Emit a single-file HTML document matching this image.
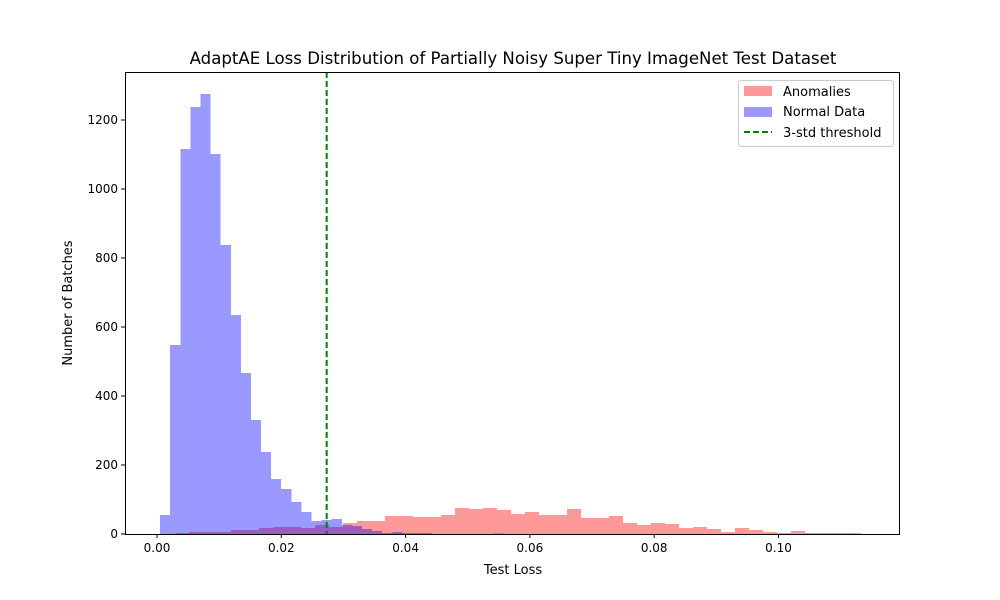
<!DOCTYPE html>
<html><head><meta charset="utf-8"><style>
body{margin:0;background:#fff}
svg{display:block;font-family:"DejaVu Sans","Liberation Sans",sans-serif}
</style></head><body>
<svg id="chart" width="1000" height="600">
<rect width="1000" height="600" fill="#fff"/>
<text x="513" y="64" font-size="16.6" text-anchor="middle">AdaptAE Loss Distribution of Partially Noisy Super Tiny ImageNet Test Dataset</text>
<g id="bars" shape-rendering="crispEdges"></g>
<g id="axes"></g>
<text x="513" y="574" font-size="13" text-anchor="middle">Test Loss</text>
<text transform="translate(72,303) rotate(-90)" font-size="13" text-anchor="middle">Number of Batches</text>
<g>
<rect x="738.5" y="80.5" width="155" height="66" rx="3" fill="#fff" fill-opacity="0.8" stroke="#ccc"/>
<rect x="744" y="86" width="28" height="10" fill="#ff0000" fill-opacity="0.4"/>
<text x="783" y="96" font-size="13">Anomalies</text>
<rect x="744" y="107" width="28" height="10" fill="#0000ff" fill-opacity="0.4"/>
<text x="783" y="116" font-size="13">Normal Data</text>
<line x1="744" y1="132" x2="772" y2="132" stroke="green" stroke-width="2" stroke-dasharray="6,3"/>
<text x="783" y="137" font-size="13">3-std threshold</text>
</g>
</svg>
<script>
const anomalyRange=[0.0029,0.1133];
const anomalyCounts=[3,6,6,6,12,12,17,20,20,17,26,20,32,38,38,52,52,49,49,55,75,72,75,70,58,64,55,55,72,46,46,52,32,26,32,29,17,20,14,6,17,12,6,3,9,3,3,3,3];
const normalRange=[0.0005,0.0817];
const normalCounts=[55,548,1116,1238,1275,1101,838,635,467,330,238,160,130,93,64,38,41,43,26,23,14,9,3,6,3,3,3,0,0,0,0,0,0,2,0,0,0,0,0,0,0,0,0,0,0,0,0,0,0,0];
const threshold=0.0273;
const xTicks=[0,0.02,0.04,0.06,0.08,0.10];
const xTickLabels=["0.00","0.02","0.04","0.06","0.08","0.10"];
const yTicks=[0,200,400,600,800,1000,1200];

const L=125,R=900,T=72,B=534;
const xS=v=>157+v*6215;
const yS=v=>B-v*0.345;
const NS="http://www.w3.org/2000/svg";
function mk(tag,attrs,parent){const e=document.createElementNS(NS,tag);for(const k in attrs)e.setAttribute(k,attrs[k]);parent.appendChild(e);return e;}
const bars=document.getElementById('bars'),axes=document.getElementById('axes');
function hist(range,counts,color,name){
  const w=(range[1]-range[0])/counts.length;
  counts.forEach((c,i)=>{
    if(c<=0)return;
    const x0=xS(range[0]+i*w),x1=xS(range[0]+(i+1)*w);
    const r=mk('rect',{x:x0,y:yS(c),width:x1-x0,height:B-yS(c),fill:color,'fill-opacity':0.4},bars);
    
    
  });
}
hist(anomalyRange,anomalyCounts,'#ff0000','anomaly');
hist(normalRange,normalCounts,'#0000ff','normal');
const th=mk('line',{x1:xS(threshold),x2:xS(threshold),y1:T,y2:B,stroke:'green','stroke-width':2,'stroke-dasharray':'6,3','shape-rendering':'auto'},bars);


const frame=mk('rect',{x:L+.5,y:T+.5,width:R-L-1,height:B-T,fill:'none',stroke:'#000','stroke-width':1},axes);


xTicks.forEach((t,i)=>{
  const x=xS(t);
  mk('line',{x1:x,x2:x,y1:B,y2:B+4,stroke:'#000'},axes);
  const tx=mk('text',{x:x,y:B+18,'font-size':12,'text-anchor':'middle'},axes);
  tx.textContent=xTickLabels[i];
  
  
});
yTicks.forEach(t=>{
  const y=yS(t);
  mk('line',{x1:L-4,x2:L,y1:y,y2:y,stroke:'#000'},axes);
  const tx=mk('text',{x:L-7,y:y+4,'font-size':12,'text-anchor':'end'},axes);
  tx.textContent=t;
  
  
});
</script>
</body></html>
